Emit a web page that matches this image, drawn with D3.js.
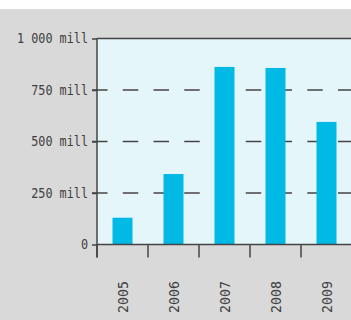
<!DOCTYPE html>
<html>
<head>
<meta charset="utf-8">
<script src="https://cdn.jsdelivr.net/npm/d3@7"></script>
<style>
  body { margin: 0; background: #fff; }
  svg { display: block; }
  text { font-family: "DejaVu Sans Mono", monospace; fill: #404040; }
</style>
</head>
<body>
<div id="chart"></div>
<script>
var years = ['2005', '2006', '2007', '2008', '2009'];
var amounts = [130, 342, 862, 857, 595];   // in mill
var yTicks = [0, 250, 500, 750, 1000];
var gridTicks = [250, 500, 750];

var W = 351, H = 320;
var margin = { top: 38.5, left: 97 };
var plotW = 255, plotH = 206;

var svg = d3.select('#chart').append('svg')
    .attr('width', W)
    .attr('height', H);

// grey page background
svg.append('rect')
    .attr('x', 0).attr('y', 9)
    .attr('width', W).attr('height', H - 9)
    .attr('fill', '#d9d9d9');

var g = svg.append('g')
    .attr('transform', 'translate(' + margin.left + ',' + margin.top + ')');

var x = d3.scaleBand()
    .domain(years)
    .range([0, plotW])
    .paddingInner(0.608)
    .paddingOuter(0.304);

// same bands without padding, for the tick marks between years
var xb = d3.scaleBand().domain(years).range([0, plotW]);

var y = d3.scaleLinear()
    .domain([0, 1000])
    .range([plotH, 0]);

g.append('rect')
    .attr('width', plotW)
    .attr('height', plotH)
    .attr('fill', '#e5f6fb');

// dashed grid
g.selectAll('.grid')
    .data(gridTicks)
    .enter()
    .append('line')
    .attr('x1', -5).attr('x2', plotW)
    .attr('y1', function (d) { return y(d); })
    .attr('y2', function (d) { return y(d); })
    .attr('stroke', '#444')
    .attr('stroke-width', 1.5)
    .attr('stroke-dasharray', '15.5,15.25');

// top border
g.append('line')
    .attr('x1', 0).attr('x2', plotW)
    .attr('y1', y(1000)).attr('y2', y(1000))
    .attr('stroke', '#444')
    .attr('stroke-width', 1.5);

g.selectAll('.bar')
    .data(amounts)
    .enter()
    .append('rect')
    .attr('class', 'bar')
    .attr('x', function (d, i) { return x(years[i]); })
    .attr('width', x.bandwidth())
    .attr('y', function (d) { return y(d); })
    .attr('height', function (d) { return plotH - y(d); })
    .attr('fill', '#00b9e4');

// y axis
var yAxis = d3.axisLeft(y)
    .tickValues(yTicks)
    .tickSize(5)
    .tickPadding(4)
    .tickFormat(function (d) {
        return d === 0 ? '0' : d3.format(',')(d).replace(',', ' ') + ' mill';
    });

var ya = g.append('g').call(yAxis);
ya.select('.domain').remove();
ya.selectAll('line').attr('stroke', '#444').attr('stroke-width', 1.5);
// narrow the mono face a bit, the original uses a condensed one
ya.selectAll('text')
    .style('font-family', '"DejaVu Sans Mono", monospace')
    .style('font-size', '13.5px')
    .attr('fill', '#404040')
    .attr('textLength', function () { return this.textContent.length * 7.1; })
    .attr('lengthAdjust', 'spacingAndGlyphs');

// vertical axis line, runs down past the base
g.append('line')
    .attr('x1', 0).attr('x2', 0)
    .attr('y1', 0).attr('y2', plotH + 13)
    .attr('stroke', '#444')
    .attr('stroke-width', 1.5);

// base line
g.append('line')
    .attr('x1', 0).attr('x2', plotW)
    .attr('y1', plotH).attr('y2', plotH)
    .attr('stroke', '#444')
    .attr('stroke-width', 1.5);

// x ticks between bands
g.selectAll('.xtick')
    .data(years)
    .enter()
    .append('line')
    .attr('x1', function (d) { return xb(d); })
    .attr('x2', function (d) { return xb(d); })
    .attr('y1', plotH)
    .attr('y2', plotH + 13)
    .attr('stroke', '#444')
    .attr('stroke-width', 1.5);

g.selectAll('.xlabel')
    .data(years)
    .enter()
    .append('text')
    .attr('transform', function (d) {
        return 'translate(' + (xb(d) + xb.bandwidth() / 2) + ',' + (plotH + 68.5) + ') rotate(-90)';
    })
    .attr('dy', '0.35em')
    .attr('text-anchor', 'start')
    .style('font-size', '14.5px')
    .attr('textLength', 32)
    .attr('lengthAdjust', 'spacingAndGlyphs')
    .text(function (d) { return d; });
</script>
</body>
</html>
